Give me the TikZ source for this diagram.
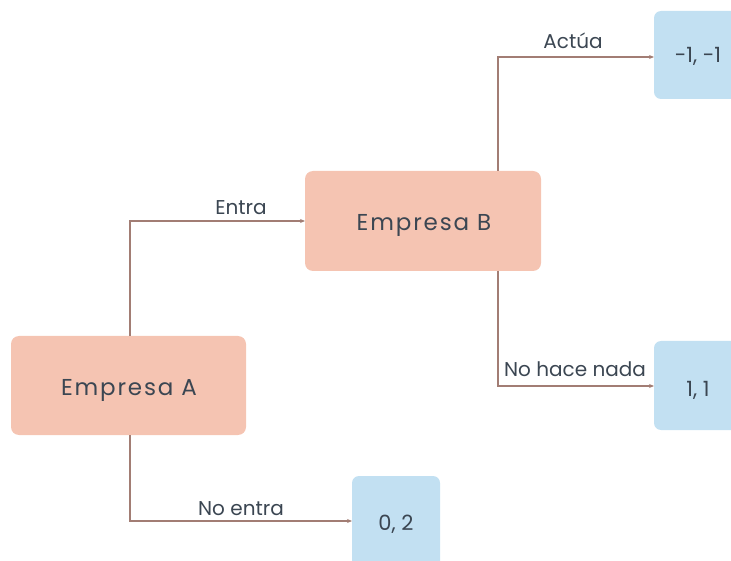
\documentclass[tikz,border=0pt]{standalone}
\usepackage{fontspec}
\setmainfont{Poppins}
\usetikzlibrary{arrows.meta}
\definecolor{salmon}{HTML}{F5C4B2}
\definecolor{skyblue}{HTML}{C2E0F2}
\definecolor{ink}{HTML}{3B4652}
\definecolor{branch}{HTML}{A27D74}
\begin{document}
\begin{tikzpicture}[x=1pt,y=-1pt,
  firm/.style={fill=salmon,rounded corners=8pt,inner sep=0pt},
  payoff/.style={fill=skyblue,rounded corners=7pt,inner sep=0pt},
  boxtext/.style={text=ink,anchor=base,inner sep=0pt,font=\fontsize{23}{26}\selectfont\addfontfeatures{LetterSpace=8}},
  paytext/.style={text=ink,anchor=base,inner sep=0pt,font=\fontsize{21}{24}\selectfont},
  lbl/.style={text=ink,anchor=base,inner sep=0pt,font=\fontsize{20}{23}\selectfont},
  edge/.style={draw=branch,line width=1.1pt,-{Stealth[length=5pt,width=4pt]}}]
\useasboundingbox (0,0) rectangle (731,561);
% decision nodes
\path[firm] (11,336) rectangle (246,435);
\node[boxtext] (A) at (129,395) {Empresa A};
\coordinate (Atop) at (130,336);
\coordinate (Abot) at (130,435);
\path[firm] (305,171) rectangle (541,271);
\node[boxtext] (B) at (424,231) {Empresa B};
\coordinate (Bleft) at (305,221);
\coordinate (Btop) at (498,171);
\coordinate (Bbot) at (498,271);
% payoff boxes
\path[payoff] (654,11) rectangle (745,99);
\node[paytext] (p1) at (698,63) {-1, -1};
\coordinate (p1in) at (654,57);
\path[payoff] (654,341) rectangle (745,430);
\node[paytext] (p2) at (698,396) {1, 1};
\coordinate (p2in) at (654,386);
\path[payoff] (352,476) rectangle (440,575);
\node[paytext] (p3) at (396,530) {0, 2};
\coordinate (p3in) at (352,521);
% branches
\draw[edge] (Atop) |- (Bleft);
\draw[edge] (Abot) |- (p3in);
\draw[edge] (Btop) |- (p1in);
\draw[edge] (Bbot) |- (p2in);
% branch labels
\node[lbl] (lEntra) at (241,215) {Entra};
\node[lbl] (lNoEntra) at (241,515) {No entra};
\node[lbl] (lActua) at (573,49) {Actúa};
\node[lbl] (lNada) at (575,377) {No hace nada};
\end{tikzpicture}
\end{document}
